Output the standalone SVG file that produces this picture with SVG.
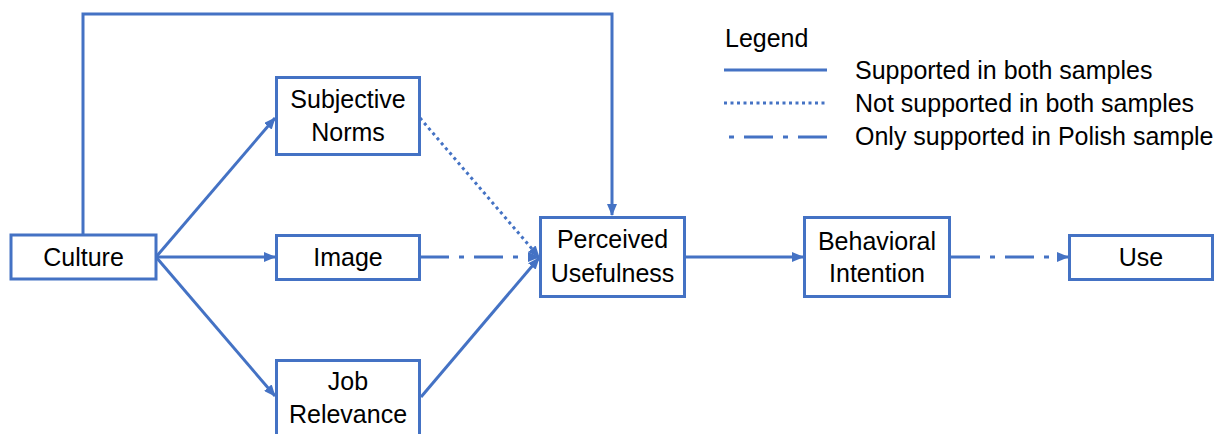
<svg xmlns="http://www.w3.org/2000/svg" width="1215" height="434" viewBox="0 0 1215 434">
<defs>
<marker id="ah" markerUnits="userSpaceOnUse" markerWidth="12" markerHeight="10" refX="11" refY="5" orient="auto">
<path d="M0,0 L12,5 L0,10 Z" fill="#4472C4"/>
</marker>
<style>
.box{fill:#fff;stroke:#4472C4;stroke-width:3}
.t{font-family:"Liberation Sans",Arial,sans-serif;font-size:25px;fill:#000;text-anchor:middle}
.lt{font-family:"Liberation Sans",Arial,sans-serif;font-size:25px;fill:#000}
.c{fill:none;stroke:#4472C4;stroke-width:3}
.dot{stroke-dasharray:3 3.5}
.dd{stroke-dasharray:29 10 5 10}
</style>
</defs>
<rect width="1215" height="434" fill="#fff"/>
<g id="connectors">
<polyline class="c" points="83,234 83,14 612,14 612,215" marker-end="url(#ah)"/>
<line class="c" x1="156" y1="257" x2="275" y2="118" marker-end="url(#ah)"/>
<line class="c" x1="156" y1="257" x2="275" y2="257" marker-end="url(#ah)"/>
<line class="c" x1="156" y1="257" x2="275" y2="396" marker-end="url(#ah)"/>
<line class="c dot" x1="420" y1="118" x2="539" y2="257" marker-end="url(#ah)"/>
<line class="c dd" x1="420" y1="257" x2="539" y2="257" marker-end="url(#ah)"/>
<line class="c" x1="421" y1="397" x2="539" y2="258" marker-end="url(#ah)"/>
<line class="c" x1="685" y1="257" x2="803" y2="257" marker-end="url(#ah)"/>
<line class="c dd" x1="951" y1="257" x2="1068" y2="257" marker-end="url(#ah)"/>
</g>
<g id="culture"><rect class="box" x="11" y="235" width="145" height="44"/><text class="t" x="83.5" y="266">Culture</text></g>
<g id="subjective-norms"><rect class="box" x="276.5" y="77.5" width="143" height="77"/><text class="t" x="348" y="108">Subjective</text><text class="t" x="348" y="141">Norms</text></g>
<g id="image"><rect class="box" x="276.5" y="235.5" width="143" height="44"/><text class="t" x="348" y="266">Image</text></g>
<g id="job-relevance"><rect class="box" x="276.5" y="360.5" width="143" height="80"/><text class="t" x="348" y="390">Job</text><text class="t" x="348" y="423">Relevance</text></g>
<g id="perceived-usefulness"><rect class="box" x="540.5" y="217.5" width="144" height="79"/><text class="t" x="612.5" y="248">Perceived</text><text class="t" x="612.5" y="282">Usefulness</text></g>
<g id="behavioral-intention"><rect class="box" x="804.5" y="217.5" width="145" height="79"/><text class="t" x="877" y="250">Behavioral</text><text class="t" x="877" y="282">Intention</text></g>
<g id="use"><rect class="box" x="1069.5" y="235.5" width="143" height="44"/><text class="t" x="1141" y="266">Use</text></g>
<g id="legend">
<text class="lt" x="725" y="47">Legend</text>
<line class="c" x1="724" y1="70" x2="827" y2="70"/>
<line class="c dot" x1="724" y1="103" x2="827" y2="103"/>
<line class="c dd" x1="827" y1="137" x2="724" y2="137"/>
<text class="lt" x="855" y="79">Supported in both samples</text>
<text class="lt" x="855" y="112">Not supported in both samples</text>
<text class="lt" x="855" y="145">Only supported in Polish sample</text>
</g>
</svg>
